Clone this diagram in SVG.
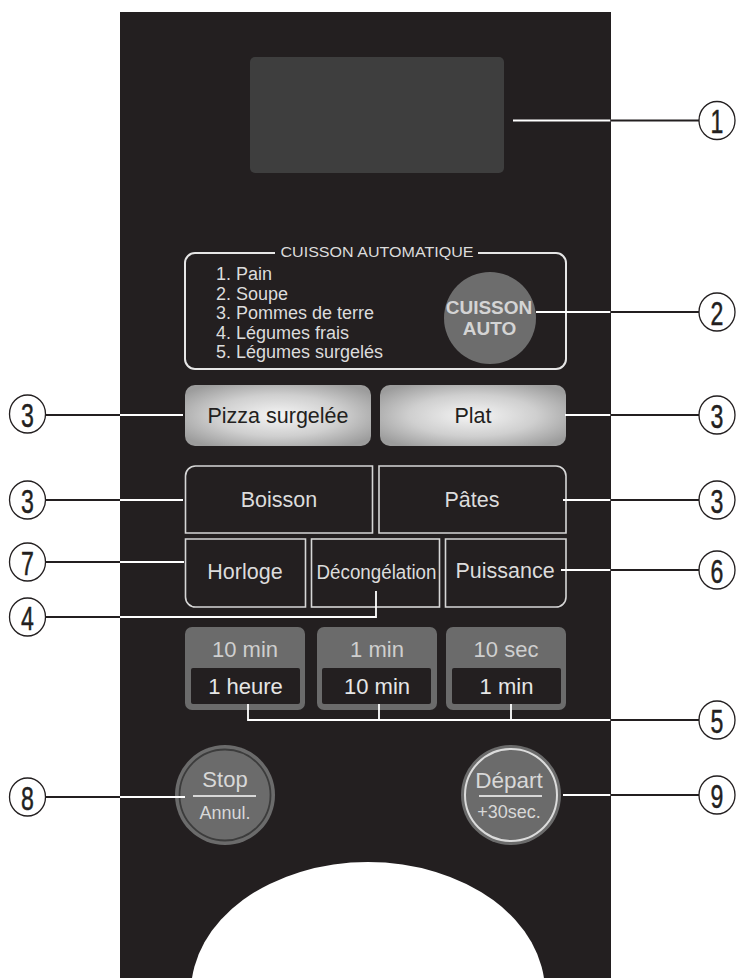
<svg xmlns="http://www.w3.org/2000/svg" width="737" height="978" viewBox="0 0 737 978">
<defs>
<radialGradient id="metal" cx="50%" cy="50%" r="62%">
<stop offset="0%" stop-color="#f5f5f5"/>
<stop offset="55%" stop-color="#cfcfcf"/>
<stop offset="100%" stop-color="#9c9c9c"/>
</radialGradient>
<style>
text{font-family:"Liberation Sans",Arial,sans-serif}
.lt{fill:#dcdcdc}
.btn{fill:none;stroke:#d6d6d6;stroke-width:1.6}
.tb{fill:#6b6b6b}
.ti{fill:#231f20}
.wl{stroke:#ffffff;stroke-width:1.8;fill:none}
.bl{stroke:#231f20;stroke-width:1.8;fill:none}
.cn{fill:#ffffff;stroke:#231f20;stroke-width:1.3}
.dg{font-size:34px;fill:#231f20;stroke:#231f20;stroke-width:0.5;text-anchor:middle}
.mid{text-anchor:middle}
</style>
</defs>
<rect width="737" height="978" fill="#ffffff"/>
<g id="panel">
<rect x="120" y="12" width="491" height="966" fill="#231f20"/>
<ellipse cx="368" cy="992" rx="177" ry="130" fill="#ffffff"/>
</g>
<g id="display">
<rect x="250" y="57" width="254" height="116" rx="5" fill="#3e3e3e"/>
</g>
<g id="auto">
<path d="M275 253 H195 A10 10 0 0 0 185 263 V359 A10 10 0 0 0 195 369 H556 A10 10 0 0 0 566 359 V263 A10 10 0 0 0 556 253 H478" fill="none" stroke="#e6e6e6" stroke-width="2"/>
<text x="377" y="257" class="lt mid" font-size="14" textLength="193" lengthAdjust="spacingAndGlyphs">CUISSON  AUTOMATIQUE</text>
<g class="lt" font-size="18">
<text x="216" y="280">1. Pain</text>
<text x="216" y="299.5">2. Soupe</text>
<text x="216" y="319">3. Pommes de terre</text>
<text x="216" y="338.5">4. Légumes frais</text>
<text x="216" y="358">5. Légumes surgelés</text>
</g>
<circle cx="490" cy="318" r="46" fill="#6d6d6d"/>
<text x="489" y="314" class="mid" font-size="19" font-weight="bold" fill="#d4d4d4">CUISSON</text>
<text x="489.5" y="335" class="mid" font-size="19" font-weight="bold" fill="#d4d4d4">AUTO</text>
</g>
<g id="pizza">
<rect x="185" y="385" width="186" height="61" rx="10" fill="url(#metal)"/>
<text x="278" y="423" class="mid" font-size="21.5" fill="#231f20">Pizza surgelée</text>
</g>
<g id="plat">
<rect x="380" y="385" width="186" height="61" rx="10" fill="url(#metal)"/>
<text x="473" y="423" class="mid" font-size="21.5" fill="#231f20">Plat</text>
</g>
<g id="boisson">
<path class="btn" d="M372.5 533 V466 H195.5 A10 10 0 0 0 185.5 476 V533 Z"/>
<text x="279" y="507" class="lt mid" font-size="21.5">Boisson</text>
</g>
<g id="pates">
<path class="btn" d="M379 533 V466 H556 A10 10 0 0 1 566 476 V533 Z"/>
<text x="472" y="507" class="lt mid" font-size="21.5">Pâtes</text>
</g>
<g id="horloge">
<path class="btn" d="M305.5 539 H185.5 V597 A10 10 0 0 0 195.5 607 H305.5 Z"/>
<text x="245" y="579" class="lt mid" font-size="21.5">Horloge</text>
</g>
<g id="decongelation">
<rect class="btn" x="311.5" y="539" width="128" height="68"/>
<text x="376.5" y="579" class="lt mid" font-size="20" textLength="120" lengthAdjust="spacingAndGlyphs">Décongélation</text>
</g>
<g id="puissance">
<path class="btn" d="M445.5 539 H566 V597 A10 10 0 0 1 556 607 H445.5 Z"/>
<text x="505" y="578" class="lt mid" font-size="21.5">Puissance</text>
</g>
<g id="t1">
<rect class="tb" x="185" y="627" width="120" height="83" rx="7"/>
<rect class="ti" x="191" y="668" width="109" height="36" rx="2"/>
<text x="245" y="657" class="mid" font-size="22" fill="#cfcfcf">10 min</text>
<text x="245.5" y="694" class="mid" font-size="22" fill="#e6e6e6">1 heure</text>
</g>
<g id="t2">
<rect class="tb" x="317" y="627" width="120" height="83" rx="7"/>
<rect class="ti" x="322" y="668" width="109" height="36" rx="2"/>
<text x="377" y="657" class="mid" font-size="22" fill="#cfcfcf">1 min</text>
<text x="377" y="694" class="mid" font-size="22" fill="#e6e6e6">10 min</text>
</g>
<g id="t3">
<rect class="tb" x="446" y="627" width="120" height="83" rx="7"/>
<rect class="ti" x="452" y="668" width="109" height="36" rx="2"/>
<text x="506" y="657" class="mid" font-size="22" fill="#cfcfcf">10 sec</text>
<text x="506.5" y="694" class="mid" font-size="22" fill="#e6e6e6">1 min</text>
</g>
<g id="stop">
<circle cx="225" cy="795" r="50" fill="#6b6b6b"/>
<circle cx="225" cy="795" r="45.5" fill="none" stroke="#3c3c3c" stroke-width="1.8"/>
<text x="225" y="787" class="mid" font-size="22" fill="#d8d8d8">Stop</text>
<line x1="193" y1="796" x2="256" y2="796" stroke="#d8d8d8" stroke-width="2"/>
<text x="225" y="819" class="mid" font-size="18" fill="#d8d8d8">Annul.</text>
</g>
<g id="depart">
<circle cx="511" cy="795" r="50" fill="#6b6b6b"/>
<circle cx="511" cy="795" r="46" fill="none" stroke="#dcdcdc" stroke-width="2"/>
<text x="509" y="788" class="mid" font-size="22.5" fill="#d8d8d8">Départ</text>
<line x1="479" y1="796" x2="542" y2="796" stroke="#d8d8d8" stroke-width="2"/>
<text x="509" y="818" class="mid" font-size="18" fill="#d8d8d8">+30sec.</text>
</g>
<g id="connectors">
<line class="wl" x1="513" y1="120.5" x2="610.5" y2="120.5"/>
<line class="bl" x1="610.5" y1="120.5" x2="699" y2="120.5"/>
<line class="wl" x1="536" y1="312" x2="610.5" y2="312"/>
<line class="bl" x1="610.5" y1="312" x2="699" y2="312"/>
<line class="bl" x1="46" y1="415" x2="120" y2="415"/>
<line class="wl" x1="120" y1="415" x2="183" y2="415"/>
<line class="wl" x1="565" y1="415" x2="610.5" y2="415"/>
<line class="bl" x1="610.5" y1="415" x2="699" y2="415"/>
<line class="bl" x1="46" y1="500" x2="120" y2="500"/>
<line class="wl" x1="120" y1="500" x2="183" y2="500"/>
<line class="wl" x1="563" y1="500" x2="610.5" y2="500"/>
<line class="bl" x1="610.5" y1="500" x2="699" y2="500"/>
<line class="bl" x1="46" y1="562" x2="120" y2="562"/>
<line class="wl" x1="120" y1="562" x2="184" y2="562"/>
<line class="wl" x1="561" y1="570" x2="610.5" y2="570"/>
<line class="bl" x1="610.5" y1="570" x2="699" y2="570"/>
<polyline class="wl" points="376,591 376,617 120,617"/>
<line class="bl" x1="46" y1="617" x2="120" y2="617"/>
<polyline class="wl" points="248,704 248,720 610.5,720"/>
<line class="wl" x1="379" y1="704" x2="379" y2="720"/>
<line class="wl" x1="511" y1="704" x2="511" y2="720"/>
<line class="bl" x1="610.5" y1="720" x2="699" y2="720"/>
<line class="bl" x1="46" y1="797" x2="120" y2="797"/>
<line class="wl" x1="120" y1="797" x2="185" y2="797"/>
<line class="wl" x1="563" y1="795" x2="610.5" y2="795"/>
<line class="bl" x1="610.5" y1="795" x2="699" y2="795"/>
</g>
<g id="c1"><ellipse class="cn" cx="717" cy="120.5" rx="18" ry="19"/><text class="dg" transform="translate(717 133) scale(0.68 1)">1</text></g>
<g id="c2"><ellipse class="cn" cx="717" cy="312" rx="18" ry="19"/><text class="dg" transform="translate(717 324.5) scale(0.68 1)">2</text></g>
<g id="c3a"><ellipse class="cn" cx="27.5" cy="414" rx="18" ry="19"/><text class="dg" transform="translate(27.5 426.5) scale(0.68 1)">3</text></g>
<g id="c3b"><ellipse class="cn" cx="717" cy="415" rx="18" ry="19"/><text class="dg" transform="translate(717 427.5) scale(0.68 1)">3</text></g>
<g id="c3c"><ellipse class="cn" cx="27.5" cy="500" rx="18" ry="19"/><text class="dg" transform="translate(27.5 512.5) scale(0.68 1)">3</text></g>
<g id="c3d"><ellipse class="cn" cx="717" cy="500" rx="18" ry="19"/><text class="dg" transform="translate(717 512.5) scale(0.68 1)">3</text></g>
<g id="c7"><ellipse class="cn" cx="27.5" cy="562" rx="18" ry="19"/><text class="dg" transform="translate(27.5 574.5) scale(0.68 1)">7</text></g>
<g id="c6"><ellipse class="cn" cx="717" cy="570" rx="18" ry="19"/><text class="dg" transform="translate(717 582.5) scale(0.68 1)">6</text></g>
<g id="c4"><ellipse class="cn" cx="27.5" cy="617" rx="18" ry="19"/><text class="dg" transform="translate(27.5 629.5) scale(0.68 1)">4</text></g>
<g id="c5"><ellipse class="cn" cx="717" cy="720" rx="18" ry="19"/><text class="dg" transform="translate(717 732.5) scale(0.68 1)">5</text></g>
<g id="c8"><ellipse class="cn" cx="27.5" cy="797" rx="18" ry="19"/><text class="dg" transform="translate(27.5 809.5) scale(0.68 1)">8</text></g>
<g id="c9"><ellipse class="cn" cx="717" cy="795" rx="18" ry="19"/><text class="dg" transform="translate(717 807.5) scale(0.68 1)">9</text></g>
</svg>
